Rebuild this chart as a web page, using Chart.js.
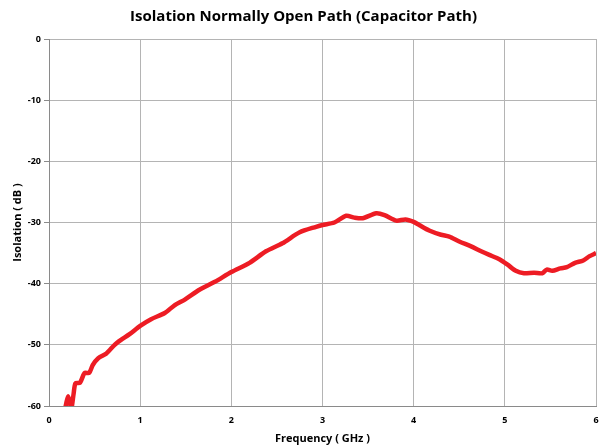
<!DOCTYPE html>
<html>
<head>
<meta charset="utf-8">
<script src="https://cdn.jsdelivr.net/npm/chart.js@4/dist/chart.umd.min.js"></script>
<style>
    html, body { margin: 0; padding: 0; background: #fff; }
    #wrap { width: 605px; height: 448px; }
</style>
</head>
<body>
<div id="wrap"><canvas id="isoChart" width="605" height="448"></canvas></div>
<script>
// frequency (GHz) and isolation (dB)
const freqGHz = [0.17, 0.19, 0.21, 0.23, 0.245, 0.27, 0.29, 0.34, 0.39, 0.44, 0.48, 0.54, 0.63, 0.72, 0.79, 0.88,
    1.0, 1.12, 1.27, 1.38, 1.49, 1.65, 1.82, 2.0, 2.2, 2.38, 2.56, 2.75, 2.93, 3.0, 3.13, 3.26, 3.35, 3.44,
    3.59, 3.68, 3.81, 3.91, 4.0, 4.06, 4.17, 4.3, 4.39, 4.5, 4.63, 4.74, 4.83, 4.94, 5.03, 5.12, 5.21, 5.32,
    5.41, 5.46, 5.52, 5.61, 5.68, 5.77, 5.86, 5.93, 6.0];
const isolationDb = [-61, -59.5, -58.4, -59.5, -60.5, -58, -56.3, -56.2, -54.6, -54.6, -53.3, -52.2, -51.4, -50, -49.2, -48.3,
    -46.9, -45.8, -44.8, -43.5, -42.6, -41, -39.7, -38.1, -36.6, -34.7, -33.4, -31.6, -30.7, -30.4, -30, -28.9, -29.2, -29.3,
    -28.5, -28.8, -29.7, -29.5, -29.9, -30.4, -31.3, -32.0, -32.3, -33.1, -33.9, -34.7, -35.3, -36.0, -36.9, -37.9, -38.3, -38.2,
    -38.3, -37.7, -37.9, -37.5, -37.3, -36.6, -36.2, -35.5, -35.0];
const xTicks = [0, 1, 2, 3, 4, 5, 6];
const yTicks = [0, -10, -20, -30, -40, -50, -60];

const points = freqGHz.map((f, i) => ({ x: f, y: isolationDb[i] }));
const fontFam = '"Open Sans", "Liberation Sans", sans-serif';

const ctx = document.getElementById('isoChart').getContext('2d');
const isoChart = new Chart(ctx, {
    type: 'line',
    data: {
        datasets: [{
            data: points,
            borderColor: '#ed1c24',
            borderWidth: 4.5,
            pointRadius: 0,
            tension: 0.25,
            fill: false
        }]
    },
    options: {
        responsive: false,
        animation: false,
        layout: { padding: { left: 11, right: 9, top: 0, bottom: 0 } },
        plugins: {
            legend: { display: false },
            tooltip: { enabled: false },
            title: {
                display: true,
                text: 'Isolation Normally Open Path (Capacitor Path)',
                color: '#000',
                font: { family: fontFam, size: 15, weight: 'bold' },
                padding: { top: 8, bottom: 13 }
            }
        },
        scales: {
            x: {
                type: 'linear',
                min: 0,
                max: 6,
                afterBuildTicks: s => { s.ticks = xTicks.map(v => ({ value: v })); },
                afterFit: s => { s.height = 42; s.paddingRight = 0; s.paddingLeft = 0; },
                grid: { color: '#b4b4b4', lineWidth: 1, drawTicks: false },
                border: { color: '#8a8a8a', width: 1 },
                ticks: { color: '#000', padding: 9, font: { family: fontFam, size: 9, weight: 'bold' } },
                title: {
                    display: true,
                    text: 'Frequency ( GHz )',
                    color: '#000',
                    padding: { top: 2, bottom: 3 },
                    font: { family: fontFam, size: 11, weight: 'bold' }
                }
            },
            y: {
                type: 'linear',
                min: -60,
                max: 0,
                afterBuildTicks: s => { s.ticks = yTicks.map(v => ({ value: v })); },
                afterFit: s => { s.width = 38; },
                grid: { color: '#b4b4b4', lineWidth: 1, tickLength: 5, tickColor: '#8a8a8a' },
                border: { color: '#8a8a8a', width: 1 },
                ticks: { color: '#000', padding: 3, font: { family: fontFam, size: 9, weight: 'bold' } },
                title: {
                    display: true,
                    text: 'Isolation ( dB )',
                    color: '#000',
                    padding: { top: 0, bottom: 4 },
                    font: { family: fontFam, size: 11, weight: 'bold' }
                }
            }
        }
    }
});
</script>
</body>
</html>
